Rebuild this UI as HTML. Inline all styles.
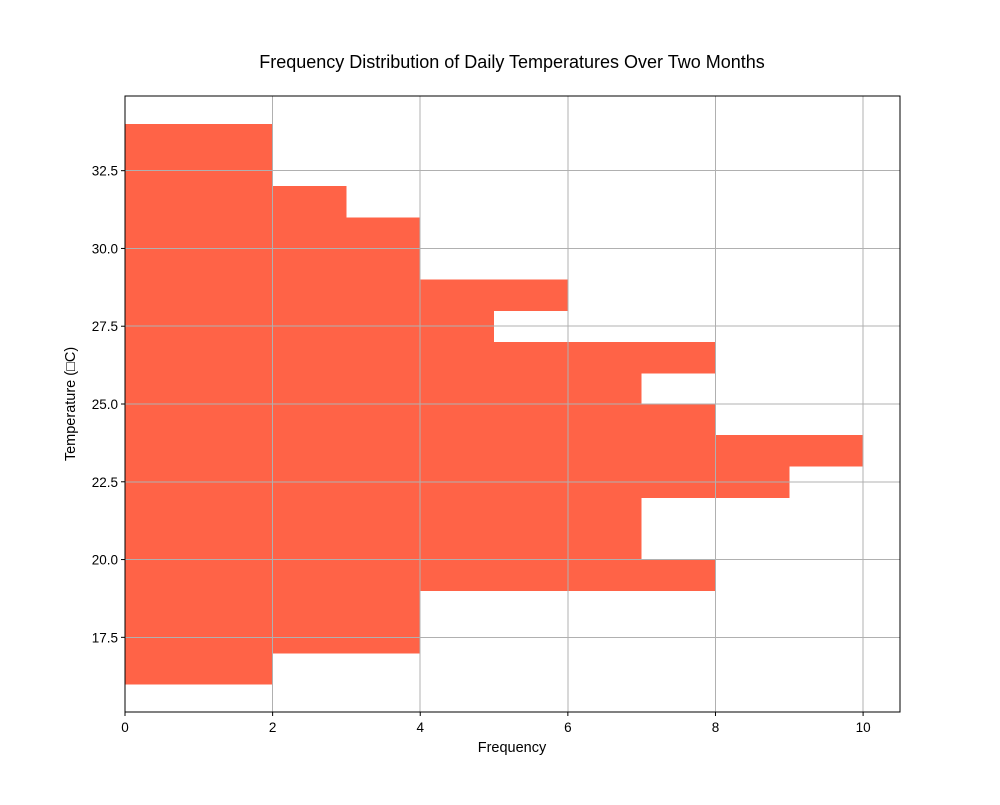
<!DOCTYPE html>
<html><head><meta charset="utf-8"><style>
body{margin:0;background:#fff;}
svg text{font-family:"Liberation Sans","DejaVu Sans",sans-serif;}
</style></head><body>
<svg id="chart" width="1000" height="800">
<rect width="1000" height="800" fill="#fff"/>
<text x="512" y="68" text-anchor="middle" font-size="18">Frequency Distribution of Daily Temperatures Over Two Months</text>
<g id="bars" shape-rendering="crispEdges"></g><g id="grid" shape-rendering="crispEdges"></g><g id="ticks"></g>
<rect x="125" y="96" width="775" height="616" fill="none" stroke="#000" stroke-width="1" shape-rendering="crispEdges"/>
<text x="512" y="752" text-anchor="middle" font-size="14.5">Frequency</text>
<text transform="translate(75,404) rotate(-90)" text-anchor="middle" font-size="14.5">Temperature (□C)</text>
</svg>
<script>
const binStarts=[16,17,18,19,20,21,22,23,24,25,26,27,28,29,30,31,32,33];
const counts=[2,4,4,8,7,7,9,10,8,7,8,5,6,4,4,3,2,2];
const xTicks=[0,2,4,6,8,10];
const yTicks=[17.5,20.0,22.5,25.0,27.5,30.0,32.5];
const binWidth=1;
const X0=125,X1=900,Y0=712,Y1=96,xMax=10.5,yMin=15.1,yMax=34.9;
const sx=v=>X0+v/xMax*(X1-X0);
const sy=v=>Y0-(v-yMin)/(yMax-yMin)*(Y0-Y1);
const NS="http://www.w3.org/2000/svg";
function mk(t,a,p){const e=document.createElementNS(NS,t);for(const k in a)e.setAttribute(k,a[k]);p.appendChild(e);return e;}
const bars=document.getElementById('bars'),grid=document.getElementById('grid'),ticks=document.getElementById('ticks');
binStarts.forEach((b,i)=>{
 const r=mk('rect',{x:sx(0),y:sy(b+binWidth),width:sx(counts[i])-sx(0),height:sy(b)-sy(b+binWidth)+0.5,fill:'#ff6347'},bars);
 
 
});
xTicks.forEach(t=>{
 const g=mk('line',{x1:sx(t),x2:sx(t),y1:Y1,y2:Y0,stroke:'#b0b0b0','stroke-width':1},grid);
 
 
 mk('line',{x1:sx(t),x2:sx(t),y1:Y0,y2:Y0+4,stroke:'#000'},ticks);
 const l=mk('text',{x:sx(t),y:Y0+20,'text-anchor':'middle','font-size':13.5},ticks);
 l.textContent=t;
 
 
});
yTicks.forEach(t=>{
 const g=mk('line',{x1:X0,x2:X1,y1:sy(t),y2:sy(t),stroke:'#b0b0b0','stroke-width':1},grid);
 
 
 mk('line',{x1:X0-4,x2:X0,y1:sy(t),y2:sy(t),stroke:'#000'},ticks);
 const l=mk('text',{x:X0-7,y:sy(t)+5,'text-anchor':'end','font-size':13.5},ticks);
 l.textContent=t.toFixed(1);
 
 
});
</script>
</body></html>
